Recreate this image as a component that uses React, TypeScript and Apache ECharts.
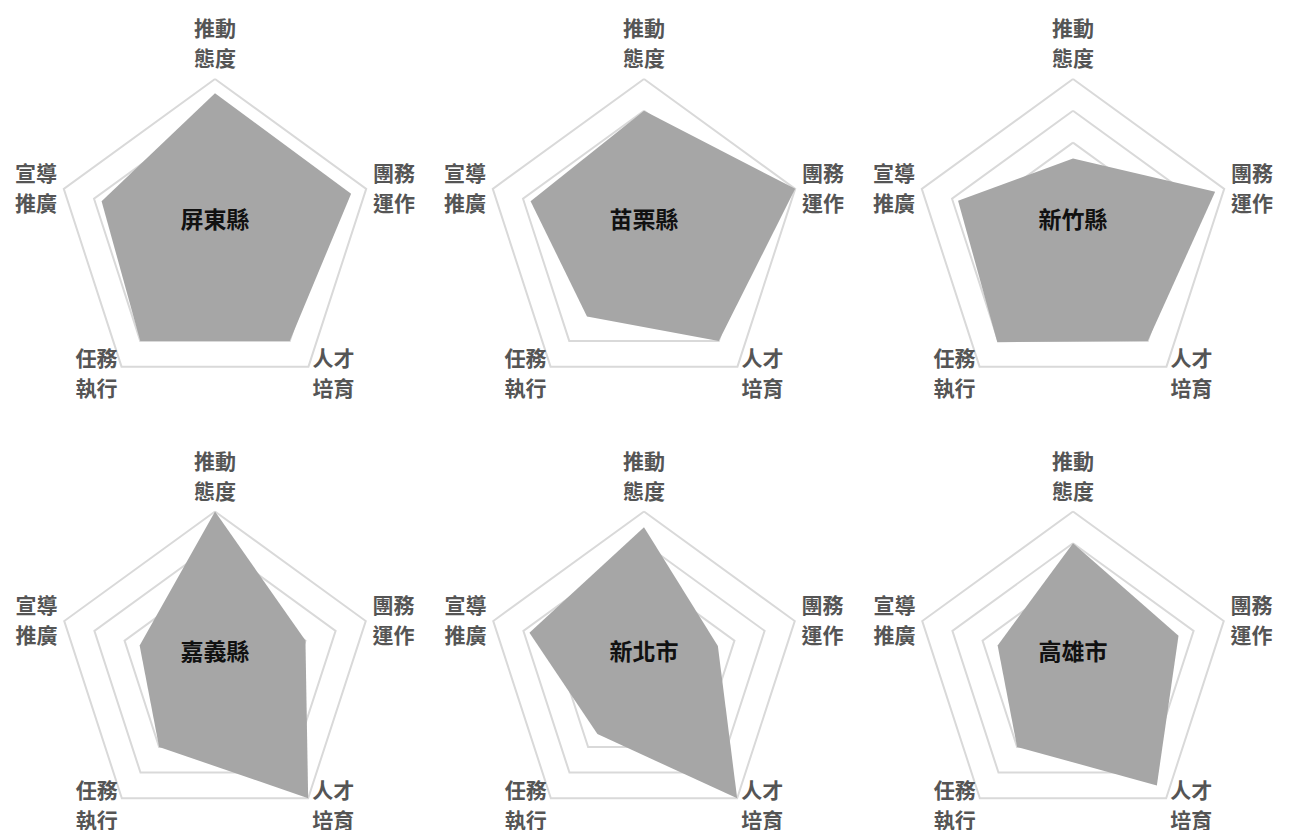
import React, { useEffect, useRef } from "react";
import * as echarts from "echarts";

const indicatorNames = ["推動態度", "宣導推廣", "任務執行", "人才培育", "團務運作"];
const regionNames = ["屏東縣", "苗栗縣", "新竹縣", "嘉義縣", "新北市", "高雄市"];
const scoreMax = 5;

const pingtung = [4.55, 3.75, 4.0, 4.0, 4.5];
const miaoli = [4.0, 3.75, 3.05, 4.0, 5.0];
const hsinchu = [2.5, 3.8, 4.05, 4.0, 4.7];
const chiayi = [5.0, 2.5, 3.0, 5.0, 3.0];
const newTaipei = [4.5, 3.8, 2.5, 5.0, 2.45];
const kaohsiung = [4.0, 2.5, 3.0, 4.5, 3.5];

const regionValues = [pingtung, miaoli, hsinchu, chiayi, newTaipei, kaohsiung];

const centersX = [215, 644, 1073];
const centersY = [238, 670];
const radii = [159, 158.5];

export default function App() {
  const ref = useRef<HTMLDivElement>(null);
  useEffect(() => {
    if (!ref.current) return;
    const chart = echarts.init(ref.current, undefined, { renderer: "svg" });
    const radars: any[] = [];
    const series: any[] = [];
    const graphics: any[] = [];
    regionNames.forEach((name, i) => {
      const row = Math.floor(i / 3);
      const cx = centersX[i % 3];
      const cy = centersY[row];
      radars.push({
        center: [cx, cy],
        radius: radii[row],
        shape: "polygon",
        splitNumber: 5,
        startAngle: 90,
        indicator: indicatorNames.map((n) => ({ name: n, max: scoreMax, min: 0 })),
        nameGap: 7,
        axisName: {
          color: "#555555",
          fontSize: 21,
          fontWeight: "bold",
          lineHeight: 30,
          fontFamily: "Noto Sans CJK TC",
          formatter: (v: string) => v.slice(0, 2) + "\n" + v.slice(2),
        },
        splitLine: { lineStyle: { color: "#d9d9d9", width: 2 } },
        splitArea: { show: false },
        axisLine: { show: false },
        axisTick: { show: false },
        axisLabel: { show: false },
      });
      series.push({
        type: "radar",
        radarIndex: i,
        symbol: "none",
        lineStyle: { width: 0, color: "#a6a6a6" },
        areaStyle: { color: "#a6a6a6", opacity: 1 },
        itemStyle: { color: "#a6a6a6" },
        data: [{ value: regionValues[i], name }],
      });
      graphics.push({
        type: "text",
        x: cx,
        y: cy - 20,
        z: 100,
        style: {
          text: name,
          fill: "#111111",
          fontSize: 23,
          fontWeight: "bold",
          fontFamily: "Noto Sans CJK TC",
          align: "center",
          verticalAlign: "middle",
        },
      });
    });
    chart.setOption({
      animation: false,
      backgroundColor: "#ffffff",
      radar: radars,
      series,
      graphic: graphics,
    });
    return () => chart.dispose();
  }, []);
  return (
    <div
      ref={ref}
      style={{ position: "absolute", left: 0, top: 0, width: 1290, height: 830 }}
    />
  );
}
